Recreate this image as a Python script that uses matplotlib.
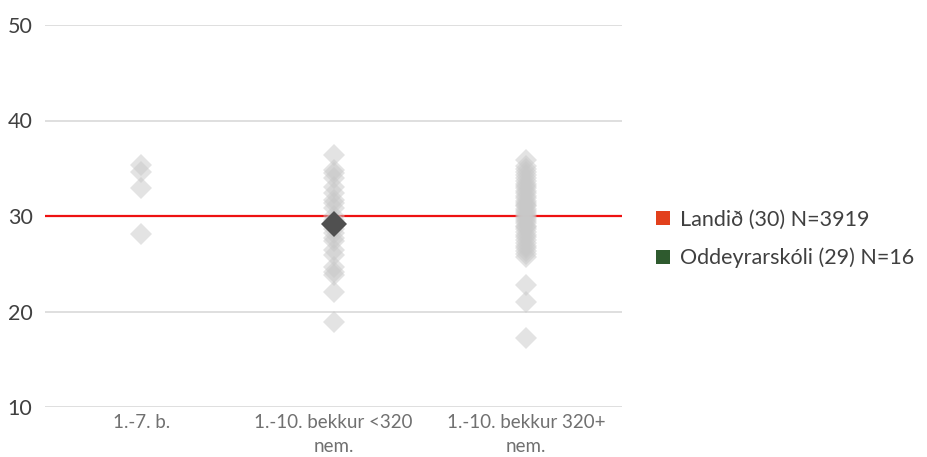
import matplotlib.pyplot as plt
from matplotlib.patches import Patch

plt.rcParams['font.family'] = ['Lato', 'DejaVu Sans']

categories = ['1.-7. b.', '1.-10. bekkur <320\nnem.', '1.-10. bekkur 320+\nnem.']

# school averages in each group (gray diamonds)
group_small = [35.3, 34.6, 32.9, 28.1]
group_mid = [36.4, 34.8, 34.5, 34.0, 33.0, 32.4, 31.7, 31.4, 30.8, 30.0,
             29.6, 29.0, 28.6, 28.2, 27.7, 27.4, 26.4, 25.9, 24.7, 24.1,
             23.8, 22.0, 18.9]
group_large = [35.9, 35.2, 34.9, 34.6, 34.3, 34.0, 33.7, 33.4, 33.1, 32.9,
               32.6, 32.4, 32.1, 31.9, 31.6, 31.4, 31.2, 31.0, 30.7, 30.5,
               30.3, 30.1, 29.9, 29.7, 29.5, 29.3, 29.0, 28.8, 28.6, 28.3,
               28.0, 27.8, 27.5, 27.2, 26.9, 26.6, 26.3, 26.0, 25.7, 22.8,
               21.0, 17.2]
groups = [group_small, group_mid, group_large]

national_value = 30
school_value = 29.2
school_group = 1

legend_labels = ['Landið (30) N=3919', 'Oddeyrarskóli (29) N=16']
legend_colors = ['#e2401c', '#2e5a2e']

fig = plt.figure(figsize=(9.28, 4.57), dpi=100)
ax = fig.add_axes([45 / 928, 1 - 407 / 457, 577 / 928, 382 / 457])

for i, vals in enumerate(groups):
    ax.plot([i] * len(vals), vals, linestyle='none', marker='D', markersize=11,
            color='#c8c8c8', alpha=0.5, markeredgewidth=0, zorder=3)

ax.plot([school_group], [school_value], linestyle='none', marker='D', markersize=13,
        color='#505050', markeredgewidth=0, zorder=4)

ax.axhline(national_value, color='#ee1111', linewidth=1.6, zorder=2)

ax.set_xlim(-0.5, 2.5)
ax.set_ylim(10, 50)
ax.set_yticks([10, 20, 30, 40, 50])
ax.set_xticks(range(len(categories)))
ax.set_xticklabels(categories, color='#707070', fontsize=13.5, linespacing=1.5)
ax.tick_params(axis='y', labelsize=15.5, labelcolor='#404040', length=0, pad=9)
ax.tick_params(axis='x', length=0, pad=5)
ax.grid(axis='y', color='#d9d9d9', linewidth=1.2, zorder=1)
for s in ax.spines.values():
    s.set_visible(False)

handles = [Patch(facecolor=c, edgecolor='none') for c in legend_colors]
fig.legend(handles, legend_labels, loc='center left', bbox_to_anchor=(656 / 928, 1 - 239 / 457),
           frameon=False, fontsize=15.5, labelcolor='#404040', handlelength=0.65,
           handleheight=0.65, handletextpad=0.45, labelspacing=0.85, borderaxespad=0,
           borderpad=0)

fig.savefig('out.png', dpi=100)
